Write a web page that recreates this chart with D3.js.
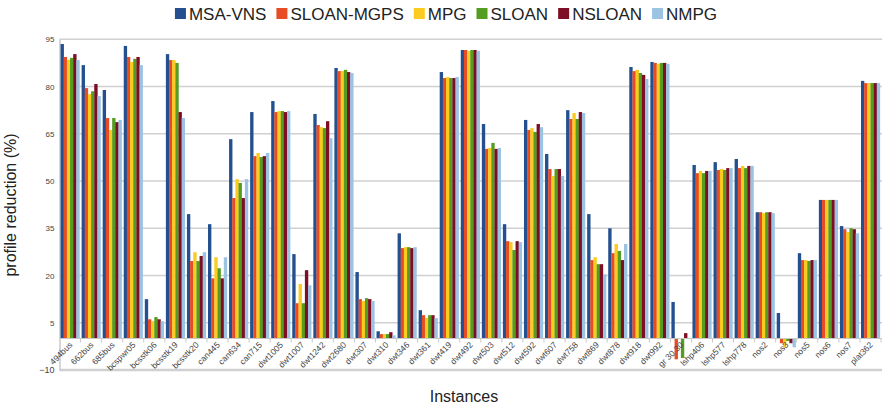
<!DOCTYPE html>
<html>
<head>
<meta charset="utf-8">
<script src="https://cdn.jsdelivr.net/npm/d3@7"></script>
<style>
  body { margin: 0; background: #fff; }
  svg { font-family: "Liberation Sans", Arial, sans-serif; }
</style>
</head>
<body>
<svg id="chart" width="882" height="406"></svg>
<script>
// instance names
const categories = ["494bus", "662bus", "685bus", "bcspwr05", "bcsstk06", "bcsstk19", "bcsstk20",
  "can445", "can634", "can715", "dwt1005", "dwt1007", "dwt1242", "dwt2680", "dwt307", "dwt310",
  "dwt346", "dwt361", "dwt419", "dwt492", "dwt503", "dwt512", "dwt592", "dwt607", "dwt758",
  "dwt869", "dwt878", "dwt918", "dwt992", "gr 30 30", "lshp406", "lshp577", "lshp778",
  "nos2", "nos3", "nos5", "nos6", "nos7", "plat362"];

const seriesNames = ["MSA-VNS", "SLOAN-MGPS", "MPG", "SLOAN", "NSLOAN", "NMPG"];
const colors = ["#24508f", "#e84c25", "#fbcb1f", "#559d20", "#7c0e25", "#9cc3e2"];

// profile reduction per instance (%)
const msaVns    = [93.5, 86.8, 78.9, 92.9, 12.5, 90.3, 39.5, 36.3, 63.3, 71.9, 75.4, 26.8, 71.3, 85.9, 21.1, 2.3, 33.4, 9.0, 84.6, 91.6, 68.1, 36.3, 69.4, 58.6, 72.5, 39.5, 35.0, 86.2, 87.8, 11.6, 55.1, 56.0, 57.0, 40.1, 8.1, 27.1, 44.0, 35.7, 81.8];
const sloanMgps = [89.4, 79.5, 70.0, 89.4, 6.1, 88.4, 24.6, 19.1, 44.6, 57.9, 71.9, 11.2, 67.8, 84.9, 12.5, 1.4, 28.7, 7.4, 82.7, 91.6, 60.2, 30.9, 66.2, 53.8, 69.7, 24.9, 27.1, 84.9, 87.5, -6.6, 52.5, 53.5, 54.1, 40.1, -1.5, 24.9, 44.0, 34.7, 81.1];
const mpg       = [88.5, 77.6, 66.2, 87.8, 5.5, 88.4, 27.4, 25.8, 50.6, 58.9, 72.2, 17.3, 67.1, 84.9, 11.9, 1.4, 29.0, 6.5, 83.0, 91.3, 60.5, 30.6, 66.8, 51.6, 71.6, 25.8, 30.0, 85.3, 87.2, 0, 53.2, 53.8, 54.8, 39.8, -2.8, 24.9, 44.0, 33.8, 81.1];
const sloan     = [89.1, 78.5, 70.0, 88.8, 6.8, 87.5, 24.6, 22.3, 49.4, 57.6, 72.2, 11.2, 66.8, 85.3, 12.8, 1.4, 29.0, 7.4, 82.7, 91.6, 62.1, 28.1, 65.6, 53.8, 69.7, 23.6, 27.8, 84.3, 87.5, -6.2, 52.5, 53.5, 54.1, 40.1, -0.8, 24.6, 44.0, 35.0, 81.1];
const nsloan    = [90.3, 80.8, 68.7, 89.4, 6.1, 71.9, 26.2, 19.1, 44.6, 57.9, 71.9, 21.7, 69.0, 84.6, 12.5, 2.0, 28.7, 7.4, 82.7, 91.6, 60.2, 30.9, 68.1, 53.8, 71.9, 23.6, 24.9, 83.7, 87.5, 1.7, 53.2, 54.1, 54.8, 40.1, -1.5, 24.9, 44.0, 34.7, 81.1];
const nmpg      = [88.4, 77.0, 69.4, 86.8, 5.5, 70.0, 27.4, 25.8, 50.6, 58.9, 72.2, 16.9, 63.6, 84.3, 11.9, 1.0, 29.0, 6.5, 83.0, 91.3, 60.5, 30.6, 67.1, 51.6, 71.6, 20.4, 30.0, 82.4, 87.2, 0, 53.2, 54.1, 54.8, 39.8, -2.8, 24.9, 44.0, 33.4, 81.1];

const seriesValues = [msaVns, sloanMgps, mpg, sloan, nsloan, nmpg];
const yTicks = [-10, 5, 20, 35, 50, 65, 80, 95];

const svg = d3.select("#chart");

// scales
const x0 = d3.scaleBand().domain(categories).range([59.5, 881]).paddingInner(0.1).paddingOuter(0.05);
const x1 = d3.scaleBand().domain(seriesNames).range([0, x0.bandwidth()]);
const y = d3.scaleLinear().domain([-10, 95]).range([370, 39.3]);

// grid lines
svg.append("g")
  .selectAll("line")
  .data(yTicks)
  .enter()
  .append("line")
  .attr("x1", 59.5)
  .attr("x2", 882)
  .attr("y1", (d) => y(d))
  .attr("y2", (d) => y(d))
  .attr("stroke", "#d0d0d0")
  .attr("stroke-width", (d) => (d === -10 ? 2.5 : 1.6));

// y axis
const yAxis = svg.append("g")
  .attr("transform", "translate(59.5,0)")
  .call(d3.axisLeft(y).tickValues(yTicks).tickSize(0).tickPadding(5));
yAxis.select(".domain").attr("stroke", "#c8c8c8").attr("stroke-width", 1.5);
yAxis.selectAll("text")
  .attr("font-size", (d) => (d === -10 ? 9 : 8))
  .attr("fill", "#444")
  .attr("font-family", "Liberation Sans, Arial, sans-serif");

// bars
const groups = svg.append("g")
  .selectAll("g")
  .data(categories)
  .enter()
  .append("g")
  .attr("transform", (d) => `translate(${x0(d)},0)`);

groups.selectAll("rect")
  .data((c, i) => seriesNames.map((s, k) => ({ s, k, v: seriesValues[k][i] })))
  .enter()
  .append("rect")
  .attr("x", (d) => x1(d.s))
  .attr("width", x1.bandwidth() + 0.2)
  .attr("y", (d) => y(Math.max(0, d.v)))
  .attr("height", (d) => Math.abs(y(d.v) - y(0)))
  .attr("fill", (d) => colors[d.k]);

// category axis at zero
const zeroY = y(0);
svg.append("line")
  .attr("x1", 59.5)
  .attr("x2", 882)
  .attr("y1", zeroY)
  .attr("y2", zeroY)
  .attr("stroke", "#c8c8c8")
  .attr("stroke-width", 1.2);

const gap = (x0.step() - x0.bandwidth()) / 2;
svg.append("g")
  .selectAll("line")
  .data(categories)
  .enter()
  .append("line")
  .attr("x1", (d) => x0(d) + x0.bandwidth() + gap)
  .attr("x2", (d) => x0(d) + x0.bandwidth() + gap)
  .attr("y1", zeroY)
  .attr("y2", zeroY + 4)
  .attr("stroke", "#c8c8c8");

// rotated instance labels
svg.append("g")
  .selectAll("text")
  .data(categories)
  .enter()
  .append("text")
  .attr("transform", (d) => `translate(${x0(d) + x0.bandwidth() / 2 + 3},${zeroY + 7}) rotate(-45)`)
  .attr("text-anchor", "end")
  .attr("font-size", 8.5)
  .attr("fill", "#444")
  .text((d) => d);

// axis titles
svg.append("text")
  .attr("transform", "translate(16,205) rotate(-90)")
  .attr("text-anchor", "middle")
  .attr("font-size", 16)
  .attr("fill", "#222")
  .text("profile reduction (%)");

svg.append("text")
  .attr("x", 464)
  .attr("y", 402)
  .attr("text-anchor", "middle")
  .attr("font-size", 16)
  .attr("fill", "#222")
  .text("Instances");

// legend
const legend = svg.append("g");
const items = legend.selectAll("g")
  .data(seriesNames)
  .enter()
  .append("g");
items.append("rect")
  .attr("width", 11)
  .attr("height", 11)
  .attr("y", 8)
  .attr("fill", (d, i) => colors[i]);
items.append("text")
  .attr("x", 14)
  .attr("y", 20)
  .attr("font-size", 17)
  .attr("fill", "#222")
  .text((d) => d);

let lx = 0;
items.each(function () {
  const g = d3.select(this);
  g.attr("transform", `translate(${lx},0)`);
  lx += 14 + g.select("text").node().getComputedTextLength() + 10;
});
legend.attr("transform", `translate(${446 - (lx - 10) / 2},0)`);
</script>
</body>
</html>
